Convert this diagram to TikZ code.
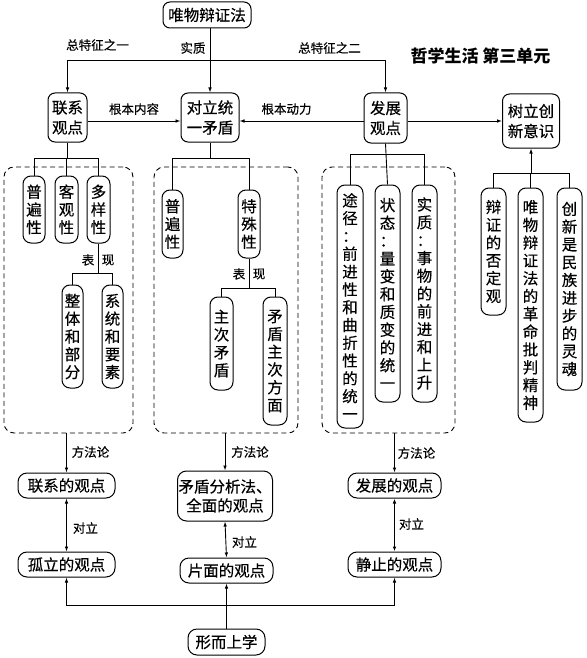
\documentclass[tikz,border=0pt]{standalone}
\usepackage{fontspec}
\newfontfamily\cjk[FakeBold=0.4]{Noto Sans CJK SC}
\newfontfamily\cjkb{Noto Sans CJK SC}
\usetikzlibrary{arrows.meta}
\begin{document}
\begin{tikzpicture}[x=1pt,y=-1pt,
  box/.style={draw, line width=1pt, rounded corners=7pt, font=\cjk\fontsize{15.5}{20}\selectfont, align=center, inner sep=1pt},
  vbox/.style={draw, line width=1pt, rounded corners=8pt, font=\cjk\fontsize{15.5}{17.8}\selectfont, align=center, inner sep=1pt},
  pill/.style={draw, line width=1pt, rounded corners=9pt, font=\cjk\fontsize{15.5}{19}\selectfont, align=center, inner sep=1pt},
  lbl/.style={font=\cjk\fontsize{12.5}{14}\selectfont, inner sep=0pt},
  dbox/.style={draw, dash pattern=on 5pt off 3.5pt, line width=0.9pt, rounded corners=10pt},
  arr/.style={-{Latex[length=5pt,width=3.6pt]}, line width=0.9pt},
  darr/.style={{Latex[length=5pt,width=3.6pt]}-{Latex[length=5pt,width=3.6pt]}, line width=0.9pt},
  ln/.style={line width=0.9pt}]
\useasboundingbox (0,0) rectangle (586,658);

% top level
\node[box, minimum width=88pt, minimum height=26pt] (top) at (207,15) {唯物辩证法};
\node[box, minimum width=39pt, minimum height=49pt] (lx) at (67.5,117.5) {联系\\观点};
\node[box, minimum width=58pt, minimum height=49pt] (mid) at (210,117.5) {对立统\\一矛盾};
\node[box, minimum width=43pt, minimum height=50pt] (fz) at (385.5,118) {发展\\观点};
\node[box, minimum width=57pt, minimum height=54pt] (cx) at (531,121) {树立创\\新意识};
\node[font=\cjkb\bfseries\fontsize{17}{20}\selectfont, inner sep=0pt] (title) at (480.5,56) {哲学生活 第三单元};

\coordinate (hj) at (210,60);
\draw[arr] (mid.north |- top.south) -- (mid.north);
\draw[arr] (hj) -| (lx.north);
\draw[arr] (hj) -| (fz.north);
\node[lbl] (l1) at (97.5,45) {总特征之一};
\node[lbl] (l2) at (193,48) {实质};
\node[lbl] (l3) at (329.5,48) {总特征之二};

\draw[arr] (lx.east |- 0,121) -- (mid.west |- 0,121);
\draw[arr] (fz.west |- 0,121) -- (mid.east |- 0,121);
\draw[arr] (fz.east |- 0,121) -- (cx.west |- 0,121);
\node[lbl] (l4) at (134,109) {根本内容};
\node[lbl] (l5) at (286.5,109) {根本动力};

% dashed groups
\node[dbox, minimum width=129pt, minimum height=266pt] (L) at (68.5,300) {};
\node[dbox, minimum width=144pt, minimum height=266pt] (M) at (226,300) {};
\node[dbox, minimum width=133pt, minimum height=266pt] (R) at (388.5,300) {};

% left group
\node[vbox, minimum width=22pt, minimum height=67pt] (a1) at (34,209.5) {普\\遍\\性};
\node[vbox, minimum width=23pt, minimum height=67pt] (a2) at (66.5,209.5) {客\\观\\性};
\node[vbox, minimum width=23pt, minimum height=67pt] (a3) at (98.5,209.5) {多\\样\\性};
\node[vbox, minimum width=21pt, minimum height=103pt] (a4) at (72.5,336.5) {整\\体\\和\\部\\分};
\node[vbox, minimum width=21pt, minimum height=103pt] (a5) at (112.5,336.5) {系\\统\\和\\要\\素};
\draw[ln] (lx.south) -- (lx.south |- 0,158);
\draw[ln] (a1.north) -- (a1.north |- 0,158) -- (a3.north |- 0,158) -- (a3.north);
\draw[ln] (a2.north |- 0,158) -- (a2.north);
\draw[ln] (a3.south) -- (a3.south |- 0,273);
\draw[ln] (a4.north) -- (a4.north |- 0,273) -- (a5.north |- 0,273) -- (a5.north);
\node[lbl] (t1) at (88,260) {表};
\node[lbl] (t2) at (108,260) {现};

% middle group
\node[vbox, minimum width=21pt, minimum height=68pt] (b1) at (172.5,224) {普\\遍\\性};
\node[vbox, minimum width=22pt, minimum height=68pt] (b2) at (249,224) {特\\殊\\性};
\node[vbox, minimum width=23pt, minimum height=93pt] (b3) at (221.5,343.5) {主\\次\\矛\\盾};
\node[vbox, minimum width=24pt, minimum height=128pt] (b4) at (275,361) {矛\\盾\\主\\次\\方\\面};
\draw[ln] (mid.south) -- (mid.south |- 0,158);
\draw[ln] (b1.north) -- (b1.north |- 0,158) -- (b2.north |- 0,158) -- (b2.north);
\draw[ln] (b2.south) -- (b2.south |- 0,288);
\draw[ln] (b3.north) -- (b3.north |- 0,288) -- (b4.north |- 0,288) -- (b4.north);
\node[lbl] (t3) at (239,274) {表};
\node[lbl] (t4) at (259,274) {现};

% right group
\node[vbox, minimum width=26pt, minimum height=243pt] (c1) at (350,306.5) {途\\径\\：\\前\\进\\性\\和\\曲\\折\\性\\的\\统\\一};
\node[vbox, minimum width=25pt, minimum height=217pt] (c2) at (387.5,293.5) {状\\态\\：\\量\\变\\和\\质\\变\\的\\统\\一};
\node[vbox, minimum width=25pt, minimum height=217pt] (c3) at (424.5,293.5) {实\\质\\：\\事\\物\\的\\前\\进\\和\\上\\升};
\draw[ln] (fz.south) -- (c2.north);
\draw[ln] (c1.north) -- (c1.north |- 0,154) -- (c3.north |- 0,154) -- (c3.north);

% innovation group
\node[vbox, minimum width=25pt, minimum height=127pt] (d1) at (493.5,251.5) {辩\\证\\的\\否\\定\\观};
\node[vbox, minimum width=25pt, minimum height=234pt] (d2) at (530.5,305) {唯\\物\\辩\\证\\法\\的\\革\\命\\批\\判\\精\\神};
\node[vbox, minimum width=25pt, minimum height=202pt] (d3) at (569.5,289) {创\\新\\是\\民\\族\\进\\步\\的\\灵\\魂};
\draw[ln] (d1.north) -- (d1.north |- 0,173) -- (d3.north |- 0,173) -- (d3.north);
\draw[ln] (d2.north) -- (d2.north |- 0,173);
\draw[arr] (cx.south |- 0,173) -- (cx.south);

% bottom
\node[pill, minimum width=97pt, minimum height=25pt] (e1) at (66.5,485.5) {联系的观点};
\node[pill, minimum width=97pt, minimum height=25pt] (e2) at (66.5,564.5) {孤立的观点};
\node[pill, minimum width=92pt, minimum height=50pt] (f1) at (225,496) {矛盾分析法、\\全面的观点};
\node[pill, minimum width=93pt, minimum height=25pt] (f2) at (226.5,570.5) {片面的观点};
\node[pill, minimum width=93pt, minimum height=25pt] (g1) at (394.5,485.5) {发展的观点};
\node[pill, minimum width=93pt, minimum height=25pt] (g2) at (394.5,564.5) {静止的观点};
\node[pill, minimum width=77pt, minimum height=26pt] (m) at (226.5,642) {形而上学};

\draw[arr] (e1.north |- L.south) -- (e1.north);
\draw[arr] (f1.north |- M.south) -- (f1.north);
\draw[arr] (g1.north |- R.south) -- (g1.north);
\node[lbl] (m1) at (90.5,452) {方法论};
\node[lbl] (m2) at (250,452) {方法论};
\node[lbl] (m3) at (416.5,453) {方法论};

\draw[darr] (e1.south) -- (e2.north);
\draw[darr] (f1.south) -- (f2.north);
\draw[darr, line width=1.3pt] (g1.south) -- (g2.north);
\node[lbl] (o1) at (85.5,528) {对立};
\node[lbl] (o2) at (244.5,542) {对立};
\node[lbl] (o3) at (411.5,524) {对立};

\coordinate (hb) at (226.5,605);
\draw[arr] (m.north) -- (f2.south);
\draw[arr] (hb) -| (e2.south);
\draw[arr] (hb) -| (g2.south);
\end{tikzpicture}
\end{document}
